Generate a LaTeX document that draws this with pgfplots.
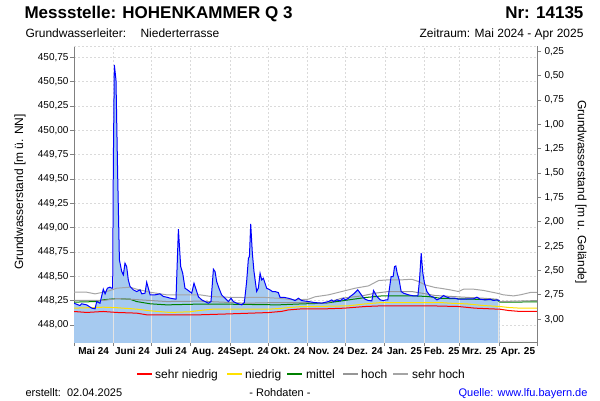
\documentclass[border=0pt]{standalone}
\usepackage{fontspec}
\setmainfont{Liberation Sans}
\usepackage{pgfplots}
\usepackage{pgfplotstable}
\pgfplotsset{compat=1.18}
\definecolor{fillblue}{RGB}{166,202,240}
\definecolor{axisgray}{RGB}{128,128,128}
\definecolor{gridgray}{RGB}{218,218,218}
\definecolor{lyellow}{RGB}{255,225,0}
\definecolor{lgreen}{RGB}{0,128,0}
\definecolor{lgrayA}{RGB}{150,150,150}
\definecolor{lgrayB}{RGB}{165,165,165}
\definecolor{lred}{RGB}{255,0,0}
\definecolor{comb}{RGB}{228,228,228}

\pgfplotstableread{
d l
0 448.224
4.7 448.200
6.0 448.218
10.0 448.207
14.0 448.173
16.6 448.166
17.9 448.241
20.5 448.224
23.1 448.368
24.5 448.320
26.3 448.378
28.4 448.389
29.7 448.378
30.5 448.378
31.0 449.645
31.8 450.671
33.1 450.517
34.4 449.559
35.8 448.669
37.6 448.550
38.9 448.515
40.2 448.635
41.5 448.601
42.8 448.464
44.2 448.395
46.8 448.361
49.4 448.344
52.1 448.361
53.4 448.320
56.0 448.327
57.3 448.440
58.6 448.378
60.0 448.310
63.9 448.310
67.8 448.320
70.5 448.293
73.1 448.286
75.7 448.276
80.4 448.265
82.3 448.984
84.1 448.601
85.7 448.532
87.5 448.378
90.2 448.354
92.8 448.327
94.6 448.430
98.1 448.290
100.7 448.258
103.3 448.241
105.9 448.224
108.0 448.241
109.9 448.573
111.2 448.549
112.5 448.446
114.3 448.378
116.4 448.309
119.1 448.275
121.7 448.241
123.8 448.275
125.6 448.241
128.3 448.224
132.2 448.207
134.3 448.231
136.1 448.446
137.5 448.686
138.3 448.703
139.3 449.038
140.6 448.737
141.9 448.549
144.0 448.344
145.3 448.378
146.7 448.532
148.0 448.463
149.3 448.480
150.6 448.429
151.9 448.378
154.5 448.361
156.4 448.344
158.5 448.344
161.1 448.333
162.4 448.285
165.1 448.285
169.0 448.275
171.6 448.265
174.3 448.251
176.9 448.275
179.5 448.251
184.8 448.241
190.0 448.230
195.4 448.225
200.6 448.241
203.2 448.258
204.6 448.241
207.2 448.258
209.8 448.248
212.4 448.275
213.8 448.258
216.4 448.275
217.7 448.293
219.5 448.310
221.1 448.327
223.7 448.361
225.6 448.327
227.4 448.293
229.5 448.265
232.2 448.251
234.8 448.248
236.1 448.354
237.4 448.327
238.7 448.293
241.4 448.258
244.0 448.251
245.8 448.258
247.4 448.258
250.0 448.498
251.6 448.498
252.7 448.600
253.7 448.607
254.8 448.532
256.3 448.464
257.9 448.344
259.8 448.327
263.7 448.310
267.6 448.299
271.1 448.299
272.4 448.464
273.7 448.737
275.0 448.532
276.3 448.429
278.2 448.344
280.8 448.299
283.4 448.286
286.1 448.258
288.7 448.275
291.3 448.303
294.0 448.286
296.6 448.275
300.5 448.275
303.1 448.265
307.1 448.265
311.0 448.269
315.0 448.269
317.6 448.286
320.2 448.265
324.2 448.258
328.1 448.265
330.7 448.252
333.4 448.258
335.5 448.252
}\bluedata

\pgfplotstableread{
d l
0 448.337
10 448.337
16.6 448.320
23.1 448.337
28.4 448.354
33.6 448.378
44.2 448.389
49.4 448.368
60.0 448.337
73.1 448.310
99.4 448.310
108.5 448.292
121.7 448.285
134.8 448.282
148 448.285
161 448.275
174.3 448.258
184.8 448.265
190.1 448.290
200.6 448.310
211.1 448.344
221.6 448.378
232.2 448.402
240.1 448.457
247.9 448.464
258.4 448.464
266.3 448.470
271.6 448.447
276.9 448.412
284.7 448.385
288.7 448.378
296.6 448.361
303.1 448.344
307.1 448.368
315.0 448.368
322.9 448.355
333.4 448.327
338.6 448.310
346.5 448.299
351.8 448.310
359.7 448.334
365 448.334
}\sehrhoch

\pgfplotstableread{
d l
0 448.252
23.1 448.252
33.6 448.272
44.2 448.265
60.0 448.252
73.1 448.241
99.4 448.245
121.7 448.232
134.8 448.224
161 448.231
179.5 448.231
197.9 448.224
211.1 448.275
226.9 448.299
237.4 448.327
247.9 448.344
266.3 448.344
274.2 448.327
284.7 448.303
290 448.299
307.1 448.286
322.9 448.275
333.4 448.265
336 448.241
365 448.251
}\hoch

\pgfplotstableread{
d l
0 448.235
17.9 448.241
23.1 448.259
33.6 448.272
44.2 448.265
49.4 448.241
60.0 448.218
73.1 448.207
99.4 448.215
121.7 448.214
161 448.207
179.5 448.217
197.9 448.224
211.1 448.248
229.5 448.282
242.7 448.299
269 448.299
279.5 448.292
288.7 448.275
333.4 448.258
336 448.234
365 448.238
}\mittel

\pgfplotstableread{
d l
0 448.173
23.1 448.183
33.6 448.178
49.4 448.163
60.0 448.146
75.7 448.129
91.5 448.136
99.4 448.150
108.5 448.162
134.8 448.162
153.2 448.162
163.7 448.172
169 448.179
179.5 448.190
190.1 448.190
216.4 448.197
229.5 448.217
242.7 448.231
288.7 448.231
296.6 448.224
309.7 448.217
322.9 448.200
336 448.190
342.6 448.180
351.8 448.173
365 448.173
}\niedrig

\pgfplotstableread{
d l
0 448.139
10 448.129
23.1 448.139
33.6 448.129
49.4 448.122
57.3 448.105
75.7 448.105
99.4 448.105
121.7 448.114
153.2 448.128
163.7 448.140
169 448.155
179.5 448.166
197.9 448.166
213 448.173
229.5 448.190
242.7 448.197
280.8 448.197
303.1 448.190
316.3 448.173
336 448.162
342.6 448.149
351.8 448.139
365 448.139
}\sehrniedrig

\begin{document}
\begin{tikzpicture}[x=1pt,y=1pt]
\useasboundingbox (0,0) rectangle (600,400);
\begin{axis}[
  at={(74pt,58pt)}, anchor=south west,
  scale only axis, width=463pt, height=296pt,
  xmin=0, xmax=365, ymin=447.8255, ymax=450.866,
  axis x line*=bottom, axis y line*=left,
  axis line style={draw=axisgray, line width=0.8pt, -},
  tick align=outside, major tick length=4pt,
  tick style={draw=axisgray, line width=0.8pt},
  xtick={0,31,61,92,123,153,184,214,245,276,304,335,365},
  xticklabels={},
  extra x ticks={15.5,46,76.5,107.5,138,168.5,199,229.5,260.5,290,319.5,350},
  extra x tick labels={Mai 24,Juni 24,Juli 24,Aug. 24,Sept. 24,Okt. 24,Nov. 24,Dez. 24,Jan. 25,Feb. 25,Mrz. 25,Apr. 25},
  extra x tick style={major tick length=0pt, grid=none,
    tick label style={font=\bfseries\fontsize{10}{12}\selectfont, anchor=base, yshift=-12pt}},
  ytick={448,448.25,448.5,448.75,449,449.25,449.5,449.75,450,450.25,450.5,450.75},
  extra y ticks={450.866}, extra y tick labels={},
  extra y tick style={major tick length=0pt},
  yticklabel style={font=\fontsize{10}{12}\selectfont, xshift=2pt, /pgf/number format/.cd, fixed, fixed zerofill, precision=2, use comma, assume math mode=true},
  /pgf/number format/assume math mode=true,
  grid=major, major grid style={gridgray, dash pattern=on 2pt off 2pt, line width=0.5pt},
  unbounded coords=jump,
]
\addplot[fill=fillblue, draw=none, forget plot] table[x=d,y=l]{\bluedata} -- (335.5,447.7) -- (0,447.7) -- cycle;
\addplot[comb, line width=1pt, forget plot] coordinates {
(31,447.7) (31,449.645) (31,nan)
(61,447.7) (61,448.310) (61,nan)
(92,447.7) (92,448.330) (92,nan)
(123,447.7) (123,448.262) (123,nan)
(153,447.7) (153,448.372) (153,nan)
(184,447.7) (184,448.241) (184,nan)
(214,447.7) (214,448.260) (214,nan)
(245,447.7) (245,448.256) (245,nan)
(276,447.7) (276,448.440) (276,nan)
(304,447.7) (304,448.265) (304,nan)
(335,447.7) (335,448.252)
};
\addplot[draw=lred, line width=1pt] table[x=d,y=l]{\sehrniedrig};
\addplot[draw=lyellow, line width=1pt] table[x=d,y=l]{\niedrig};
\addplot[draw=lgreen, line width=1pt] table[x=d,y=l]{\mittel};
\addplot[draw=lgrayA, line width=1pt] table[x=d,y=l]{\hoch};
\addplot[draw=lgrayB, line width=1pt] table[x=d,y=l]{\sehrhoch};
\addplot[draw=blue, line width=1pt] table[x=d,y=l]{\bluedata};
\end{axis}
\begin{axis}[
  at={(74pt,58pt)}, anchor=south west,
  scale only axis, width=463pt, height=296pt,
  xmin=0, xmax=365, ymin=0.194, ymax=3.2345, y dir=reverse,
  axis x line=none, axis y line*=right,
  axis line style={draw=axisgray, line width=0.8pt, -},
  tick align=outside, major tick length=4pt,
  tick style={draw=axisgray, line width=0.8pt},
  ytick={0.25,0.5,0.75,1,1.25,1.5,1.75,2,2.25,2.5,2.75,3},
  yticklabel style={font=\fontsize{10}{12}\selectfont, /pgf/number format/.cd, fixed, fixed zerofill, precision=2, use comma, assume math mode=true},
  /pgf/number format/assume math mode=true,
]
\addplot[draw=none, forget plot] coordinates {(0,1) (365,1)};
\end{axis}
% legend
\fill[lred] (137,25.5) rectangle (152,27);
\node[anchor=base west, inner sep=0pt, font=\fontsize{12}{14}\selectfont] at (155,22) {sehr niedrig};
\fill[lyellow] (227,25.5) rectangle (242,27);
\node[anchor=base west, inner sep=0pt, font=\fontsize{12}{14}\selectfont] at (245,22) {niedrig};
\fill[lgreen] (287,25.5) rectangle (302,27);
\node[anchor=base west, inner sep=0pt, font=\fontsize{12}{14}\selectfont] at (306,22) {mittel};
\fill[lgrayA] (343,25.5) rectangle (358,27);
\node[anchor=base west, inner sep=0pt, font=\fontsize{12}{14}\selectfont] at (361,22) {hoch};
\fill[lgrayB] (393,25.5) rectangle (408,27);
\node[anchor=base west, inner sep=0pt, font=\fontsize{12}{14}\selectfont] at (412,22) {sehr hoch};
% texts
\node[anchor=base west, font=\bfseries\fontsize{17}{20}\selectfont] at (21,381) {Messstelle: HOHENKAMMER Q 3};
\node[anchor=base east, font=\bfseries\fontsize{17}{20}\selectfont] at (587,381) {Nr: 14135};
\node[anchor=base west, font=\fontsize{12}{14}\selectfont] at (22,362) {Grundwasserleiter:};
\node[anchor=base west, font=\fontsize{12}{14}\selectfont] at (137,362) {Niederterrasse};
\node[anchor=base east, font=\fontsize{12}{14}\selectfont] at (587,362) {Zeitraum: Mai 2024 - Apr 2025};
\node[rotate=90, font=\fontsize{12}{14}\selectfont] at (20,208) {Grundwasserstand [m ü. NN]};
\node[rotate=-90, font=\fontsize{12}{14}\selectfont] at (581,208) {Grundwasserstand [m u. Gelände]};
\node[anchor=base west, font=\fontsize{11}{13}\selectfont] at (22,4) {erstellt:\ \ 02.04.2025};
\node[anchor=base, font=\fontsize{11}{13}\selectfont] at (280,4) {- Rohdaten -};
\node[anchor=base east, font=\fontsize{11}{13}\selectfont, text=blue] at (591,4) {Quelle: www.lfu.bayern.de};
\end{tikzpicture}
\end{document}
